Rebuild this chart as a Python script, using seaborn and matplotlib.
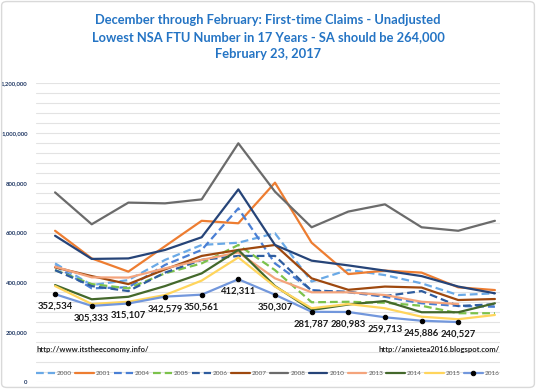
import matplotlib
matplotlib.use("Agg")
import matplotlib.pyplot as plt
import seaborn as sns
import numpy as np
import pandas as pd
from matplotlib.patches import FancyBboxPatch
from matplotlib import font_manager

# weeks from early December through late February (13 weekly points)
weeks = list(range(13))

y2000 = [476000, 389000, 409000, 490000, 550000, 559000, 597000, 403000, 450000, 429000, 396000, 349000, 356000]
y2001 = [607000, 496000, 443000, 545000, 647000, 637000, 800000, 559000, 433000, 447000, 439000, 380000, 369000]
y2004 = [466000, 376000, 380000, 470000, 530000, 697000, 476000, 369000, 360000, 342000, 316000, 305000, 302000]
y2005 = [449000, 393000, 376000, 436000, 476000, 550000, 449000, 320000, 322000, 318000, 306000, 276000, 276000]
y2006 = [449000, 385000, 365000, 439000, 490000, 506000, 506000, 366000, 362000, 345000, 365000, 305000, 312000]
y2007 = [460000, 425000, 393000, 452000, 506000, 530000, 550000, 416000, 370000, 383000, 379000, 329000, 333000]
y2008 = [761000, 633000, 720000, 717000, 733000, 958000, 764000, 621000, 684000, 713000, 621000, 607000, 647000]
y2010 = [587000, 494000, 496000, 530000, 581000, 773000, 550000, 487000, 468000, 447000, 425000, 383000, 356000]
y2013 = [463000, 420000, 419000, 456000, 490000, 520000, 416000, 360000, 360000, 349000, 322000, 313000, np.nan]
y2014 = [389000, 332000, 342000, 385000, 436000, 530000, 385000, 289000, 311000, 325000, 280000, 280000, 316000]
y2015 = [385000, 313000, 322000, 349000, 407000, 500000, 383000, 296000, 313000, 296000, 262000, 252000, 269000]
y2016 = [352534, 305333, 315107, 342579, 350561, 412311, 350307, 281787, 280983, 259713, 245886, 240527, np.nan]

years = ["2000", "2001", "2004", "2005", "2006", "2007", "2008", "2010", "2013", "2014", "2015", "2016"]
values = [y2000, y2001, y2004, y2005, y2006, y2007, y2008, y2010, y2013, y2014, y2015, y2016]

colors = {
    "2000": "#6AA9E6", "2001": "#ED7D31", "2004": "#4A7FD4", "2005": "#7CC24B",
    "2006": "#2E5C9E", "2007": "#9E480E", "2008": "#6B6B6B", "2010": "#264478",
    "2013": "#F4A47C", "2014": "#43682B", "2015": "#FFD55C", "2016": "#7297DC",
}
dashed = {"2000", "2004", "2005", "2006"}

sns.set_style("white")
plt.rcParams["font.family"] = ["Lato", "DejaVu Sans"]

installed = {f.name for f in font_manager.fontManager.ttflist}
tick_font = "Liberation Sans Narrow" if "Liberation Sans Narrow" in installed else "Lato"

fig = plt.figure(figsize=(5.36, 3.89), dpi=100)
ax = fig.add_axes([0.0672, 0.018, 0.8657, 0.7686])

for year, vals in zip(years, values):
    df = pd.DataFrame({"week": weeks, "claims": vals}).dropna()
    style = (0, (3.5, 1.8)) if year in dashed else "-"
    kw = {}
    if year == "2016":
        kw = dict(marker="o", markersize=3.2, markerfacecolor="black", markeredgecolor="black")
    sns.lineplot(data=df, x="week", y="claims", ax=ax, color=colors[year],
                 linestyle=style, linewidth=1.6, label=year, legend=False, **kw)

# data labels on the 2016 series
for i, v in enumerate(y2016):
    if np.isnan(v):
        continue
    ax.annotate(f"{int(v):,}", (weeks[i], v), xytext=(0, -12), textcoords="offset pixels",
                ha="center", va="center", fontsize=6.8, fontweight="bold", color="#1a1a1a")

ax.set_xlim(-0.52, 12.14)
ax.set_ylim(0, 1200000)
ax.set_yticks(np.arange(0, 1200001, 200000))
ax.set_yticks(np.arange(0, 1200001, 40000), minor=True)
ax.set_yticklabels([f"{int(t):,}" for t in np.arange(0, 1200001, 200000)])
ax.yaxis.grid(True, which="both", color="#E3E3E3", linewidth=0.8)
ax.set_xticks([])
ax.set_xlabel("")
ax.set_ylabel("")
ax.tick_params(axis="y", which="both", length=0, pad=6, labelsize=5.0, labelcolor="#203864")
for lbl in ax.get_yticklabels():
    lbl.set_fontweight("bold")
    lbl.set_fontfamily(tick_font)
    if tick_font == "Lato":
        lbl.set_fontsize(4.3)
for s in ax.spines.values():
    s.set_visible(False)

ax.text(0.0, 0.11, "http://www.itstheeconomy.info/", transform=ax.transAxes,
        fontsize=5.5, fontweight="bold", color="#222222", ha="left", va="center")
ax.text(1.0, 0.11, "http://anxietea2016.blogspot.com/", transform=ax.transAxes,
        fontsize=5.5, fontweight="bold", color="#222222", ha="right", va="center")

leg = ax.legend(loc="center", bbox_to_anchor=(0.5, 0.03), ncol=12, frameon=False,
                fontsize=4.6, handlelength=2.9, handletextpad=0.35, columnspacing=0.5,
                labelcolor="#595959", borderaxespad=0, borderpad=0)

title_color = "#2474C4"
fig.text(0.5, 0.949, "December through February: First-time Claims - Unadjusted",
         ha="center", va="center", fontsize=9.3, fontweight="bold", color=title_color)
fig.text(0.5, 0.905, "Lowest NSA FTU Number in 17 Years - SA should be 264,000",
         ha="center", va="center", fontsize=9.3, fontweight="bold", color=title_color)
fig.text(0.5, 0.861, "February 23, 2017",
         ha="center", va="center", fontsize=9.3, fontweight="bold", color=title_color)

fig.patches.append(FancyBboxPatch((0.003, 0.004), 0.994, 0.992, boxstyle="round,pad=0,rounding_size=0.01",
                                  transform=fig.transFigure, fill=False, edgecolor="#D9D9D9", linewidth=1))

fig.savefig("out.png", dpi=100)
plt.close(fig)
